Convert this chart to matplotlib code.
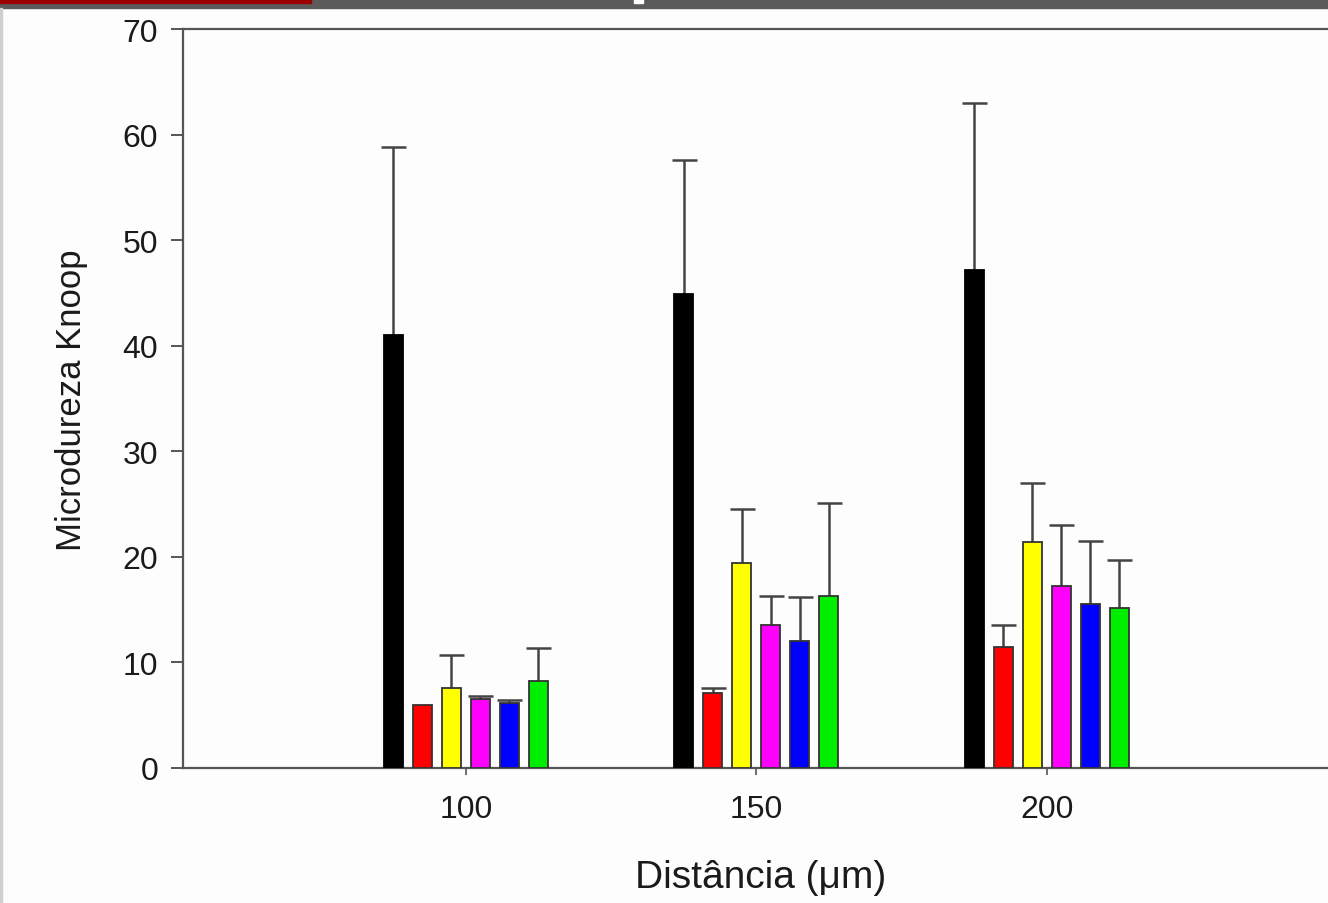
import numpy as np
import matplotlib as mpl
mpl.use('Agg')
import matplotlib.pyplot as plt
from matplotlib.patches import Rectangle

plt.rcParams['font.family'] = ['Liberation Sans', 'DejaVu Sans']

# distancias (um)
distancias = [100, 150, 200]

# medias de microdureza por grupo (preto, vermelho, amarelo, magenta, azul, verde)
preto = [41.0, 44.9, 47.2]
vermelho = [6.0, 7.1, 11.5]
amarelo = [7.6, 19.4, 21.4]
magenta = [6.5, 13.5, 17.2]
azul = [6.2, 12.0, 15.5]
verde = [8.2, 16.3, 15.2]

# topo das barras de erro (media + desvio)
preto_sup = [58.8, 57.6, 63.0]
vermelho_sup = [6.0, 7.6, 13.5]
amarelo_sup = [10.7, 24.5, 27.0]
magenta_sup = [6.8, 16.3, 23.0]
azul_sup = [6.4, 16.2, 21.5]
verde_sup = [11.4, 25.1, 19.7]

series = [
    (preto, preto_sup, '#000000'),
    (vermelho, vermelho_sup, '#ff0000'),
    (amarelo, amarelo_sup, '#ffff00'),
    (magenta, magenta_sup, '#ff00ff'),
    (azul, azul_sup, '#0000ff'),
    (verde, verde_sup, '#00ee00'),
]

W, H = 1328, 904
fig = plt.figure(figsize=(W / 100, H / 100), dpi=100)
fig.patch.set_facecolor('#fdfdfd')

# faixa superior (slide)
fig.patches.append(Rectangle((0, 1 - 9 / H), 1, 9 / H, transform=fig.transFigure,
                             color='#5b5b5b', zorder=0))
fig.patches.append(Rectangle((0, 1 - 4 / H), 311 / W, 4 / H, transform=fig.transFigure,
                             color='#990000', zorder=1))
fig.patches.append(Rectangle((634 / W, 1 - 4 / H), 9 / W, 4 / H, transform=fig.transFigure,
                             color='white', zorder=1))
fig.patches.append(Rectangle((0, 0), 2 / W, 1 - 9 / H, transform=fig.transFigure,
                             color='#cfcfcf', zorder=1))

ax = fig.add_axes([183 / W, 135 / H, 1154 / W, 739 / H])
ax.set_facecolor('#fdfdfd')

x = np.array(distancias, dtype=float)
largura = 3.27
desloc = [-12.5, -7.5, -2.5, 2.5, 7.5, 12.5]

for (media, sup, cor), d in zip(series, desloc):
    media = np.array(media)
    sup = np.array(sup)
    xs = x + d
    ax.bar(xs, media, width=largura, color=cor,
           edgecolor='#000000' if cor == '#000000' else '#333333',
           linewidth=1.3, zorder=3)
    m = (sup - media) > 0.05
    # so a parte de cima do erro
    ax.vlines(xs[m], media[m], sup[m], color='#444444', linewidth=1.8, zorder=2)
    ax.plot(xs[m], sup[m], linestyle='none', marker='_', markersize=18,
            markeredgewidth=1.8, color='#444444', zorder=2)

ax.set_xlim(51.3, 250)
ax.set_ylim(0, 70)
ax.set_yticks(range(0, 71, 10))
ax.set_xticks(distancias)

for s in ax.spines.values():
    s.set_color('#555555')
    s.set_linewidth(1.6)

ax.tick_params(axis='y', direction='out', length=9, width=1.4, color='#555555',
               labelsize=23, pad=9, labelcolor='#1a1a1a')
ax.tick_params(axis='x', direction='out', length=5, width=1.2, color='#555555',
               labelsize=23, pad=14, labelcolor='#1a1a1a')

ax.set_xlabel('Distância (μm)', fontsize=28, color='#1a1a1a')
ax.set_ylabel('Microdureza Knoop', fontsize=25, color='#1a1a1a')
ax.xaxis.set_label_coords((761 - 183) / 1154, -(860 - 769) / 739)
ax.yaxis.set_label_coords(-(183 - 88) / 1154, (769 - 400) / 739)

fig.savefig('out.png', dpi=100, facecolor=fig.get_facecolor())
